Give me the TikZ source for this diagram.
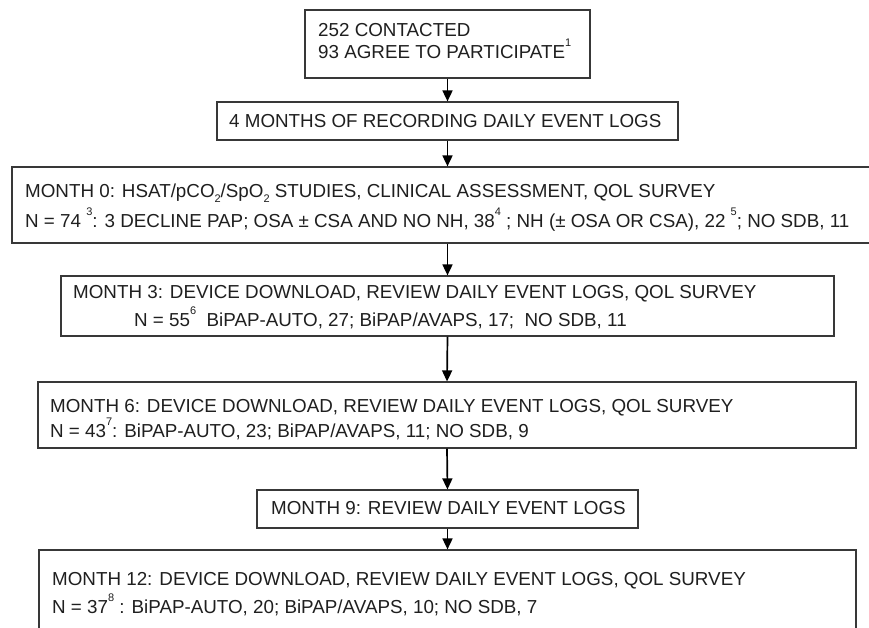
\documentclass[tikz,border=0pt]{standalone}
\usepackage{fontspec}
\setmainfont{Liberation Sans}
\usetikzlibrary{arrows.meta}
\newcommand\fnmark[1]{\raisebox{0.6em}{\fontsize{11}{11}\selectfont #1}}
\newcommand\subtwo{\raisebox{-0.3em}{\fontsize{11}{11}\selectfont 2}}
\tikzset{
  box/.style={draw=black!78, line width=1.2pt, rectangle, inner sep=0pt},
  txt/.style={anchor=base west, inner sep=0pt, text=black!88, font=\fontsize{18.8}{22}\selectfont},
  conn/.style={draw=black, line width=1.7pt, -{Triangle[length=11pt,width=10pt]}}
}
\begin{document}
\begin{tikzpicture}[x=1pt,y=-1pt]
\useasboundingbox (0,0) rectangle (869,627);
\clip (0,0) rectangle (869,627);
\fill[white] (0,0) rectangle (869,627);
% boxes
\node[box, minimum width=285pt, minimum height=68pt] (b1) at (447.5,44) {};
\node[box, minimum width=461pt, minimum height=38pt] (b2) at (447.5,121) {};
\node[box, minimum width=871pt, minimum height=76pt] (b3) at (447.5,205) {};
\node[box, minimum width=773pt, minimum height=60pt] (b4) at (447.5,306) {};
\node[box, minimum width=818pt, minimum height=66pt] (b5) at (447,415) {};
\node[box, minimum width=381pt, minimum height=38pt] (b6) at (447.5,509) {};
\node[box, minimum width=817pt, minimum height=100pt] (b7) at (447.5,600) {};
% texts
\node[txt] (t1a) at (318,36) {252 CONTACTED};
\node[txt] (t1b) at (318,58) {93 AGREE TO PARTICIPATE\fnmark{1}};
\node[txt] (t2) at (229,127) {4 MONTHS OF RECORDING DAILY EVENT LOGS};
\node[txt] (t3a) at (25,197) {MONTH 0: HSAT/pCO\subtwo/SpO\subtwo{} STUDIES, CLINICAL ASSESSMENT, QOL SURVEY};
\node[txt] (t3b) at (25,227) {N = 74 \fnmark{3}: 3 DECLINE PAP; OSA ± CSA AND NO NH, 38\fnmark{4} ; NH (± OSA OR CSA), 22 \fnmark{5}; NO SDB, 11};
\node[txt] (t4a) at (73,298) {MONTH 3: DEVICE DOWNLOAD, REVIEW DAILY EVENT LOGS, QOL SURVEY};
\node[txt] (t4b) at (134,326) {N = 55\fnmark{6}\ \ BiPAP-AUTO, 27; BiPAP/AVAPS, 17;\ \ NO SDB, 11};
\node[txt] (t5a) at (50,412) {MONTH 6: DEVICE DOWNLOAD, REVIEW DAILY EVENT LOGS, QOL SURVEY};
\node[txt] (t5b) at (50,437) {N = 43\fnmark{7}: BiPAP-AUTO, 23; BiPAP/AVAPS, 11; NO SDB, 9};
\node[txt] (t6) at (271,514) {MONTH 9: REVIEW DAILY EVENT LOGS};
\node[txt] (t7a) at (52,585) {MONTH 12: DEVICE DOWNLOAD, REVIEW DAILY EVENT LOGS, QOL SURVEY};
\node[txt] (t7b) at (52,613) {N = 37\fnmark{8} : BiPAP-AUTO, 20; BiPAP/AVAPS, 10; NO SDB, 7};
% connectors
\draw[conn] (b1.south) -- (b2.north);
\draw[conn] (b2.south) -- (b3.north);
\draw[conn] (b3.south) -- (b4.north);
\draw[conn] (b4.south) -- (b5.north);
\draw[conn] (b5.south) -- (b6.north);
\draw[conn] (b6.south) -- (b7.north);
\end{tikzpicture}
\end{document}
